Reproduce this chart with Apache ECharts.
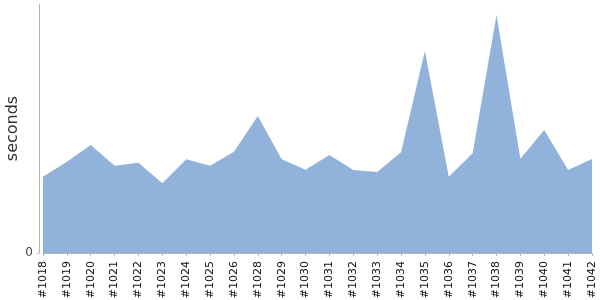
<!DOCTYPE html>
<html>
<head>
<meta charset="utf-8">
<script src="https://cdn.jsdelivr.net/npm/echarts@6/dist/echarts.min.js"></script>
<style>html,body{margin:0;padding:0;background:#fff}#c{width:600px;height:300px}</style>
</head>
<body>
<div id="c"></div>
<script>
const builds = ['#1018','#1019','#1020','#1021','#1022','#1023','#1024','#1025','#1026','#1028','#1029','#1030','#1031','#1032','#1033','#1034','#1035','#1036','#1037','#1038','#1039','#1040','#1041','#1042'];
const durations = [76.3,91.3,108,87.3,90.3,69.7,93.7,87.3,101.3,137,93.7,83.3,98,83,81,100.7,202,76.3,99.7,238,94.3,123,83,94];
const yMax = 249;

const chart = echarts.init(document.getElementById('c'), null, {renderer:'canvas'});
chart.setOption({
  animation: false,
  grid: {left: 43, right: 8, top: 4, bottom: 47, containLabel: false, outerBoundsMode: 'none'},
  xAxis: {
    type: 'category',
    data: builds,
    boundaryGap: false,
    offset: 3,
    axisLine: {lineStyle: {color: '#b4b4b4', width: 1}},
    axisTick: {show: true, length: 3, lineStyle: {color: '#b4b4b4'}},
    axisLabel: {rotate: 90, fontSize: 11, color: '#111', margin: 5, fontFamily: 'DejaVu Sans', interval: 0}
  },
  yAxis: {
    type: 'value',
    min: 0,
    max: yMax,
    interval: yMax,
    offset: 4,
    name: 'seconds',
    nameLocation: 'middle',
    nameGap: 18,
    nameMoveOverlap: false,
    nameRotate: 90,
    nameTextStyle: {fontSize: 16, color: '#333', fontFamily: 'DejaVu Sans'},
    axisLine: {show: true, lineStyle: {color: '#b4b4b4', width: 1}},
    axisTick: {show: true, length: 2, lineStyle: {color: '#b4b4b4'}},
    splitLine: {show: false},
    axisLabel: {fontSize: 12, color: '#444', margin: 6, fontFamily: 'DejaVu Sans', showMaxLabel: false,
      formatter: v => v === 0 ? '0' : ''}
  },
  series: [{
    type: 'line',
    data: durations,
    symbol: 'none',
    lineStyle: {width: 0},
    areaStyle: {color: '#91b3db', opacity: 1}
  }]
});
</script>
</body>
</html>
